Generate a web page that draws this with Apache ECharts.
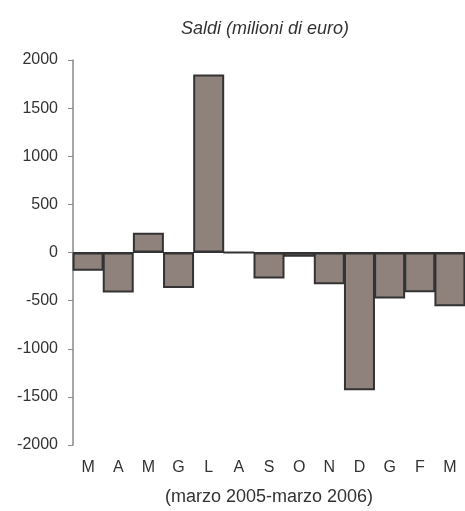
<!DOCTYPE html>
<html>
<head>
<meta charset="utf-8">
<script src="https://cdn.jsdelivr.net/npm/echarts@6/dist/echarts.min.js"></script>
<style>
  html, body { margin: 0; padding: 0; background: #fff; }
  #chart { width: 465px; height: 511px; }
</style>
</head>
<body>
<div id="chart"></div>
<script>
const months = ['M', 'A', 'M', 'G', 'L', 'A', 'S', 'O', 'N', 'D', 'G', 'F', 'M']
const saldi = [-190, -415, 205, -370, 1850, 0, -270, -45, -330, -1430, -478, -412, -558]
const yTicks = { min: -2000, max: 2000, step: 500 }

const chart = echarts.init(document.getElementById('chart'))
const font = '"Liberation Sans", Arial, sans-serif'

chart.setOption({
  animation: false,
  title: {
    text: 'Saldi (milioni di euro)',
    left: 176,
    top: 15,
    textStyle: { fontFamily: font, fontSize: 18, fontStyle: 'italic', fontWeight: 'normal', color: '#333' }
  },
  grid: { left: 73, right: 0, top: 60, bottom: 66 },
  xAxis: {
    type: 'category',
    data: months,
    axisLine: { show: false, onZero: false },
    axisTick: { show: false },
    axisLabel: { fontFamily: font, fontSize: 16, color: '#333', margin: 15 },
    name: '(marzo 2005-marzo 2006)',
    nameLocation: 'middle',
    nameGap: 43,
    nameTextStyle: { fontFamily: font, fontSize: 18, color: '#333' }
  },
  yAxis: {
    type: 'value',
    min: yTicks.min,
    max: yTicks.max,
    interval: yTicks.step,
    splitLine: { show: false },
    axisLine: { show: true, lineStyle: { color: '#8a8a8a', width: 1.5 } },
    axisTick: { show: true, length: 5, lineStyle: { color: '#8a8a8a' } },
    axisLabel: { fontFamily: font, fontSize: 16, color: '#333', margin: 15, formatter: v => String(v) }
  },
  series: [{
    type: 'bar',
    data: saldi,
    barWidth: 31,
    itemStyle: { color: '#8f827d', borderColor: '#333', borderWidth: 2 },
    markLine: {
      silent: true,
      symbol: 'none',
      label: { show: false },
      lineStyle: { color: '#333', width: 1, type: 'solid' },
      data: [{ yAxis: 0 }]
    }
  }]
})
</script>
</body>
</html>
